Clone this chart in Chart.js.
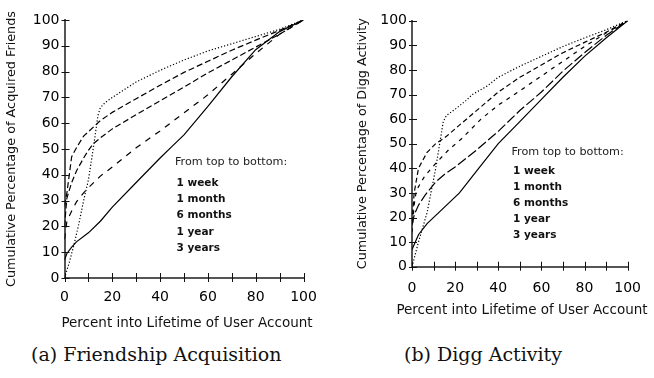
<!DOCTYPE html>
<html>
<head>
<meta charset="utf-8">
<script src="https://cdn.jsdelivr.net/npm/chart.js@4.4.1/dist/chart.umd.min.js"></script>
<style>
  html, body { margin: 0; padding: 0; background: #fff; }
  body { width: 654px; height: 378px; position: relative; overflow: hidden; font-family: "DejaVu Sans", sans-serif; color: #111; }
  .panel { position: absolute; }
  .key { position: absolute; font-size: 11.2px; color: #222; white-space: nowrap; line-height: 16px; }
  .key.items { font-size: 10.5px; font-weight: bold; color: #111; }
  .axis-title { position: absolute; font-size: 13.5px; color: #111; white-space: nowrap; line-height: 16px; transform: translate(-50%, -50%); }
  .caption { position: absolute; font-family: "DejaVu Serif", "Liberation Serif", serif; font-size: 19px; color: #111; white-space: nowrap; line-height: 22px; transform: translateY(-50%); }
</style>
</head>
<body>
<div class="panel" style="left:0;top:0;width:330px;height:340px;"><canvas id="friends" width="330" height="340"></canvas></div>
<div class="panel" style="left:330px;top:0;width:324px;height:330px;"><canvas id="digg" width="324" height="330"></canvas></div>

<div class="key" style="left:175px;top:153.7px;">From top to bottom:</div>
<div class="key items" style="left:176.5px;top:173.5px;line-height:16.4px;" id="keyFriends"></div>

<div class="key" style="left:511.5px;top:143.7px;">From top to bottom:</div>
<div class="key items" style="left:513px;top:162px;line-height:16px;" id="keyDigg"></div>

<div class="axis-title" style="left:187px;top:322px;">Percent into Lifetime of User Account</div>
<div class="axis-title" style="left:522px;top:309px;">Percent into Lifetime of User Account</div>

<div class="caption" style="left:31px;top:354px;">(a) Friendship Acquisition</div>
<div class="caption" style="left:404px;top:354px;">(b) Digg Activity</div>

<script>
// Account-age cohorts, listed from the top curve to the bottom one
const cohorts = ['1 week', '1 month', '6 months', '1 year', '3 years'];
const xTickValues = [0, 20, 40, 60, 80, 100];

// (a) cumulative % of acquired friends vs. % into account lifetime: [x, y]
const friends1Week   = [[0,0],[2,6],[4,13],[6,21],[8,30],[10,38],[12,50],[14,63],[15,66],[17,68],[20,70],[30,76],[40,80.5],[50,84.5],[60,88],[70,90.8],[80,93.6],[90,96.4],[100,100]];
const friends1Month  = [[0,28],[1,33],[3,47],[5,50.5],[8,55],[10,56.7],[15,61],[20,64.2],[30,69.5],[40,74.7],[50,79.7],[60,84],[70,88.3],[80,92.2],[90,96],[100,100]];
const friends6Months = [[0,20],[1,31],[3,37],[5,41.5],[8,46.5],[10,49.5],[12,52],[15,54.3],[20,57.8],[30,63.3],[40,68.7],[50,74],[60,79.5],[70,84.5],[80,89.5],[90,94.5],[100,100]];
const friends1Year   = [[0,15],[1,22],[3,26],[5,29.5],[8,33],[10,35],[15,39.5],[20,43],[30,50.5],[40,57],[50,64],[60,71],[70,79],[80,87],[90,94.5],[100,100]];
const friends3Years  = [[0,7],[1,9.5],[3,12],[5,14],[10,17.5],[15,22],[20,27.5],[30,37],[40,46.5],[45,51],[50,55.5],[60,66.5],[70,78],[80,88.5],[90,95.5],[100,100]];

// (b) cumulative % of Digg activity vs. % into account lifetime: [x, y]
const digg1Week   = [[0,0],[3,10],[7,22],[11,40],[14.5,59],[16,61.5],[20,64],[25,67.5],[28,70],[35,73.5],[40,77],[50,81.5],[60,85.5],[70,89.5],[80,93],[90,96.3],[100,100]];
const digg1Month  = [[0,18],[1,30],[3,40],[7,46.5],[11,50],[16,53],[23,58.3],[32,65],[40,71],[50,77],[60,82],[70,87],[80,91.2],[90,95.3],[100,100]];
const digg6Months = [[0,14],[1,25],[2,31],[6,37],[11,42],[17,47.5],[23,52],[32,60],[40,65.7],[50,71.5],[60,77.5],[70,83.5],[80,89.5],[90,95],[100,100]];
const digg1Year   = [[0,17],[1,21],[3,25],[6,29],[11,34.5],[15,37.5],[20,40.5],[30,47.5],[40,55],[50,63.5],[60,71],[70,79.5],[80,87],[90,94],[100,100]];
const digg3Years  = [[0,7],[3,13],[7,17.5],[13,22.5],[22,30],[30,39],[40,50],[50,59],[60,68],[70,77],[80,85.5],[90,93],[100,100]];

const toPoints = pairs => pairs.map(([x, y]) => ({ x, y }));

// write the cohort names into the two keys
for (const id of ['keyFriends', 'keyDigg']) {
  const el = document.getElementById(id);
  cohorts.forEach(name => {
    const d = document.createElement('div');
    d.textContent = name;
    el.appendChild(d);
  });
}

// tick marks that straddle both axis lines
const crossTicks = {
  id: 'crossTicks',
  afterDatasetsDraw(chart) {
    const { ctx, chartArea, scales: { x, y } } = chart;
    ctx.save();
    ctx.strokeStyle = '#111';
    ctx.lineWidth = 1;
    x.ticks.forEach(t => {
      const px = Math.round(x.getPixelForValue(t.value)) + 0.5;
      ctx.beginPath();
      ctx.moveTo(px, chartArea.bottom - 5);
      ctx.lineTo(px, chartArea.bottom + 4);
      ctx.stroke();
    });
    y.ticks.forEach(t => {
      const py = Math.round(y.getPixelForValue(t.value)) + 0.5;
      ctx.beginPath();
      ctx.moveTo(chartArea.left - 3, py);
      ctx.lineTo(chartArea.left + 5, py);
      ctx.stroke();
    });
    ctx.restore();
  }
};

const tickFont = { family: '"DejaVu Sans", sans-serif', size: 14 };
const titleFont = { family: '"DejaVu Sans", sans-serif', size: 12.8 };

function makeChart(id, series, dashes, opt) {
  const datasets = series.map((s, i) => ({
    label: cohorts[i],
    data: toPoints(s),
    borderColor: '#000',
    borderWidth: 1.2,
    borderDash: dashes[i],
    pointRadius: 0,
    tension: 0,
    fill: false
  }));
  return new Chart(document.getElementById(id), {
    type: 'line',
    data: { datasets },
    plugins: [crossTicks],
    options: {
      responsive: false,
      animation: false,
      events: [],
      layout: { padding: opt.padding },
      plugins: { legend: { display: false }, tooltip: { enabled: false } },
      scales: {
        x: {
          type: 'linear', min: 0, max: 100,
          afterFit: s => { s.height = opt.xHeight; },
          afterBuildTicks: s => { s.ticks = Array.from({ length: 11 }, (_, k) => ({ value: k * 10 })); },
          ticks: {
            autoSkip: false, maxRotation: 0, padding: opt.xTickPad,
            color: '#000', font: tickFont,
            callback: v => xTickValues.includes(v) ? String(v) : ''
          },
          grid: { display: false, drawTicks: false },
          border: { display: true, color: '#555', width: 2 }
        },
        y: {
          type: 'linear', min: 0, max: 100,
          afterFit: s => { s.width = opt.yWidth; },
          ticks: { stepSize: 10, padding: 5, color: '#000', font: tickFont },
          grid: { display: false, drawTicks: false },
          border: { display: true, color: '#555', width: 2 },
          title: { display: true, text: opt.yTitle, color: '#111', font: titleFont, padding: { top: opt.yTitlePad, bottom: 0 } }
        }
      }
    }
  });
}

makeChart('friends',
  [friends1Week, friends1Month, friends6Months, friends1Year, friends3Years],
  [[1.2, 2], [6, 3], [6, 3], [6, 6], []],
  { padding: { left: 0, top: 20, right: 26.5, bottom: 0 }, yWidth: 64.5, xHeight: 62, xTickPad: 11, yTitlePad: 4,
    yTitle: 'Cumulative Percentage of Acquired Friends' });

makeChart('digg',
  [digg1Week, digg1Month, digg6Months, digg1Year, digg3Years],
  [[1.2, 2], [5, 3], [4, 5], [10, 3], []],
  { padding: { left: 20, top: 20.7, right: 14, bottom: 0 }, yWidth: 62, xHeight: 63.3, xTickPad: 13, yTitlePad: 5,
    yTitle: 'Cumulative Percentage of Digg Activity' });
</script>
</body>
</html>
